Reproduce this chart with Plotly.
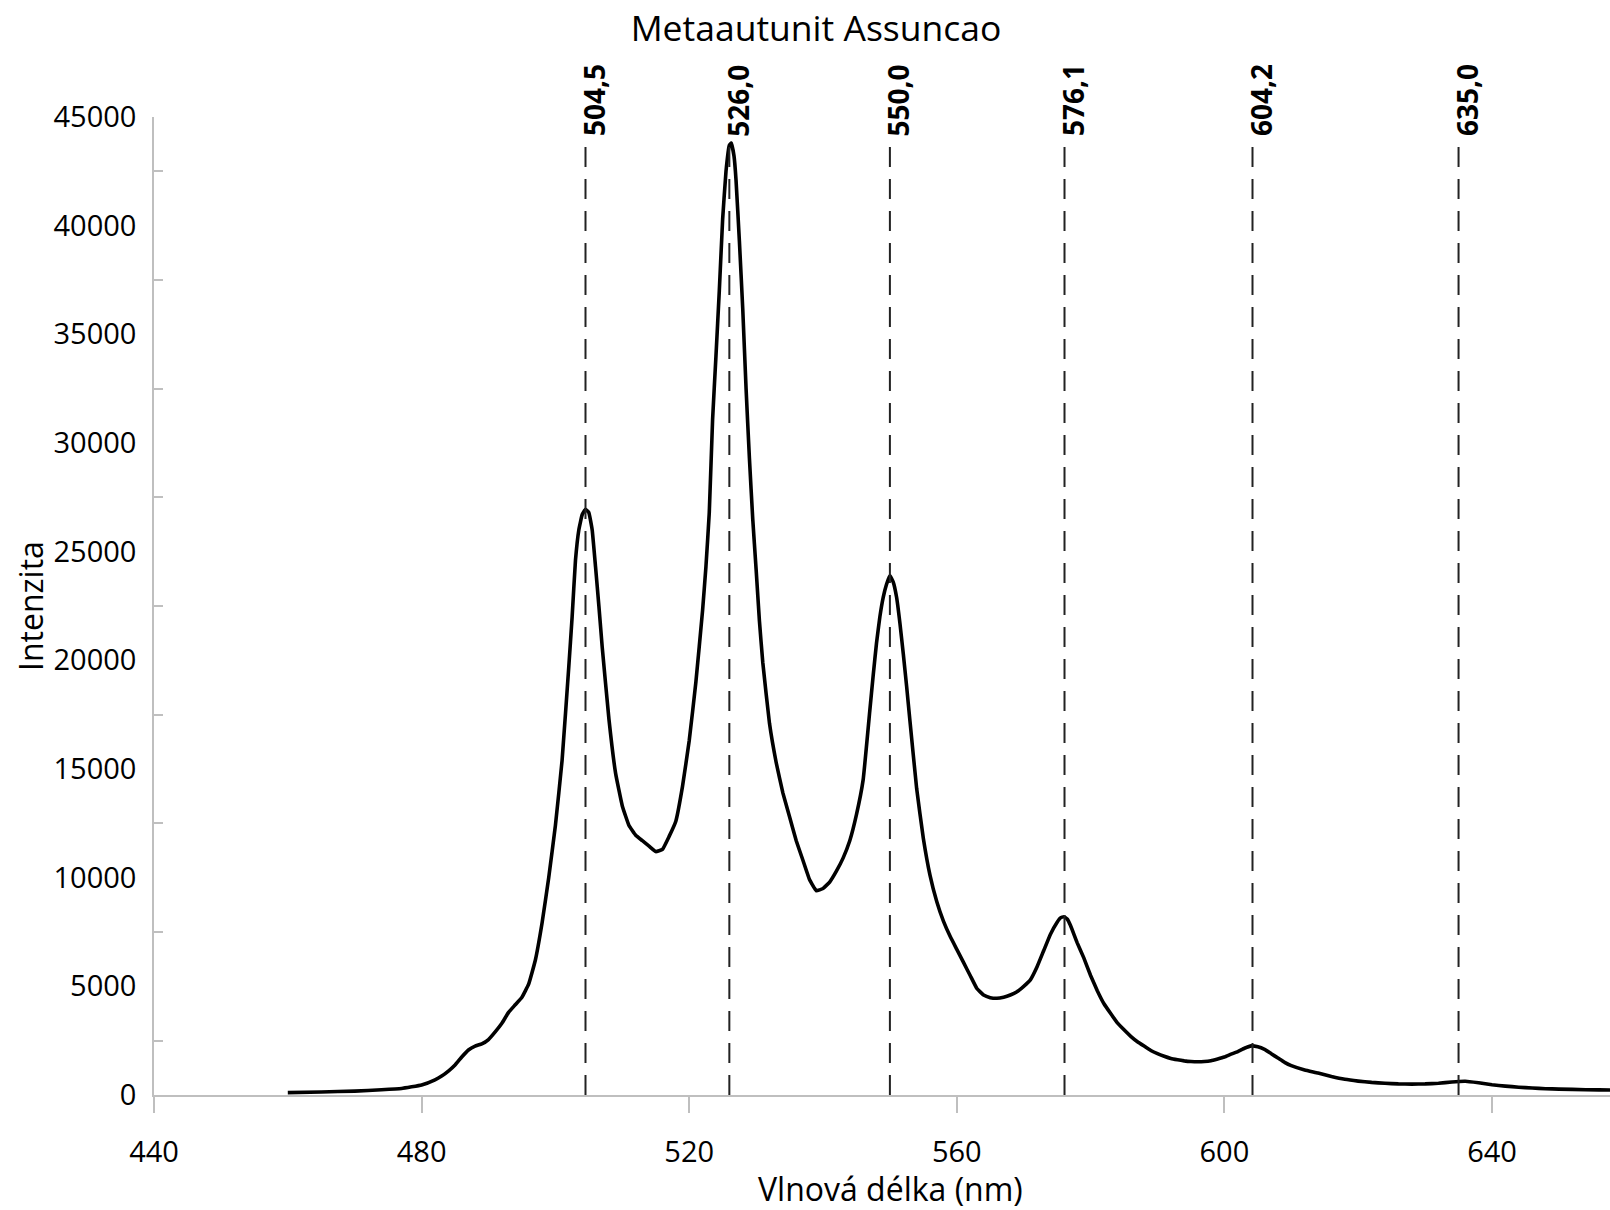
import plotly.graph_objects as go

# ---- data ----
wavelength = [460, 465, 470, 474, 477, 480, 482, 483, 484, 485, 486, 487, 488, 489, 490,
              491, 492, 493, 494, 495, 496, 497, 498, 499, 500, 501, 502, 502.5, 503, 503.5,
              504, 504.5, 505, 505.5, 506, 506.5, 507, 508, 509, 510, 511, 512, 513, 514, 515,
              516, 517, 518, 519, 520, 521, 522, 522.5, 523, 523.5, 524, 524.5, 525, 525.5, 526,
              526.3, 526.7, 527, 527.5, 528, 528.5, 529, 529.5, 530, 530.5, 531, 532, 533, 534,
              535, 536, 537, 538, 539, 540, 541, 542, 543, 544, 545, 546, 547, 547.5, 548,
              548.5, 549, 549.5, 550, 550.5, 551, 551.5, 552, 552.5, 553, 554, 555, 556, 557, 558,
              559, 560, 561, 562, 563, 564, 565, 566, 567, 568, 569, 570, 571, 572, 573,
              574, 575, 575.5, 576, 576.5, 577, 578, 579, 580, 581, 582, 583, 584, 585, 586,
              587, 588, 589, 590, 591, 592, 593, 594, 595, 596, 597, 598, 599, 600, 601,
              602, 603, 604, 605, 606, 607, 608, 609, 610, 612, 614, 616, 618, 620, 622,
              624, 626, 628, 630, 632, 634, 636, 638, 640, 642, 644, 646, 648, 650, 654,
              658, 660]
intensity = [110, 140, 180, 240, 300, 460, 700, 870, 1100, 1380, 1750, 2070, 2250, 2350, 2550,
             2900, 3300, 3800, 4150, 4500, 5100, 6200, 7900, 10000, 12400, 15400, 19700, 22000, 24600, 26000,
             26700, 26950, 26800, 26000, 24300, 22500, 20600, 17300, 14800, 13300, 12400, 11950, 11700, 11450, 11200,
             11300, 11900, 12600, 14200, 16300, 19000, 22300, 24300, 26800, 31100, 34000, 37000, 40300, 42500, 43700,
             43800, 43200, 42100, 39300, 36200, 32500, 29300, 26500, 24200, 21800, 19900, 17100, 15300, 13900,
             12800, 11700, 10800, 9900, 9400, 9500, 9800, 10300, 10900, 11700, 12900, 14500, 17700, 19300, 20800,
             22000, 22900, 23500, 23900, 23600, 22900, 21700, 20300, 18800, 17200, 14100, 11800, 10100, 8900, 8000,
             7300, 6700, 6100, 5500, 4900, 4600, 4480, 4450, 4500, 4600, 4750, 5000, 5300, 5900, 6650,
             7400, 7950, 8150, 8200, 8100, 7800, 7000, 6300, 5500, 4800, 4200, 3750, 3320, 3000, 2700,
             2450, 2250, 2050, 1900, 1780, 1680, 1620, 1570, 1540, 1530, 1540, 1580, 1660, 1750, 1880,
             2000, 2150, 2260, 2220, 2100, 1900, 1700, 1500, 1350, 1150, 1010, 850, 720, 640, 580,
             540, 510, 500, 510, 540, 600, 630, 560, 470, 410, 360, 320, 290, 270, 245,
             230, 220]

peak_positions = [504.5, 526.0, 550.0, 576.1, 604.2, 635.0]
peak_labels = ["504,5", "526,0", "550,0", "576,1", "604,2", "635,0"]

x_ticks = [440, 480, 520, 560, 600, 640]

title_text = "Metaautunit Assuncao"
x_title = "Vlnová délka (nm)"
y_title = "Intenzita"

FONT = "Open Sans"
GRAY = "#bfbfbf"

fig = go.Figure()
fig.add_trace(go.Scatter(x=wavelength, y=intensity, mode="lines",
                         line=dict(color="black", width=3.6, shape="spline", smoothing=0.3),
                         showlegend=False, hoverinfo="skip"))

line_top = 0.9795
label_bottom = 0.978
for pos, lab in zip(peak_positions, peak_labels):
    fig.add_shape(type="line", xref="x", yref="paper", x0=pos, x1=pos, y0=0, y1=line_top,
                  line=dict(color="#222222", width=2, dash="20px,12px"))
    fig.add_annotation(x=pos, xref="x", y=label_bottom, yref="paper", text="<b>%s</b>" % lab,
                       textangle=-90, showarrow=False, xanchor="center", yanchor="bottom",
                       xshift=8, font=dict(family=FONT, size=28, color="black"))

fig.add_annotation(x=(890 - 154) / 1456, xref="paper", y=(1095 - 1188) / 978, yref="paper",
                   text=x_title, showarrow=False, xanchor="center", yanchor="middle",
                   font=dict(family=FONT, size=32, color="black"))
fig.add_annotation(x=(30 - 154) / 1456, xref="paper", y=0.5, yref="paper",
                   text=y_title, showarrow=False, textangle=-90, xanchor="center", yanchor="middle",
                   font=dict(family=FONT, size=32, color="black"))

fig.update_layout(
    width=1610, height=1210,
    margin=dict(l=154, r=0, t=117, b=115),
    paper_bgcolor="white", plot_bgcolor="white",
    title=dict(text=title_text, x=816 / 1610, xref="container", xanchor="center",
               y=1 - 29 / 1210, yref="container", yanchor="middle",
               font=dict(family=FONT, size=35.5, color="black")),
    font=dict(family=FONT, color="black"),
)
fig.update_xaxes(range=[440, 440 + 1456 / 6.69], tickvals=x_ticks, ticks="outside", ticklen=16,
                 tickwidth=1.5, tickcolor=GRAY, showline=True, linecolor=GRAY, linewidth=1.5,
                 showgrid=False, zeroline=False, ticklabelstandoff=14,
                 tickfont=dict(family=FONT, size=29, color="black"))
fig.update_yaxes(range=[0, 45000], dtick=5000, tickformat="d", ticks="", showline=True,
                 linecolor=GRAY, linewidth=1.5,
                 showgrid=False, zeroline=False, ticklabelstandoff=10,
                 minor=dict(ticks="inside", dtick=2500, ticklen=9, tickwidth=1.5, tickcolor=GRAY,
                            showgrid=False),
                 tickfont=dict(family=FONT, size=29, color="black"))

fig.write_html("out.html")
